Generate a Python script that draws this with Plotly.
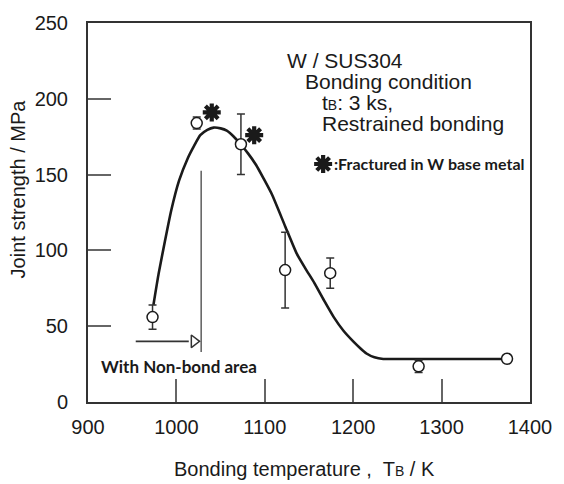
import plotly.graph_objects as go

# Measured data points (bonding temperature K, joint strength MPa, error)
temp = [973, 1023, 1073, 1123, 1174, 1274, 1374]
strength = [56, 184, 170, 87, 85, 23.5, 28.5]
err = [8, 4, 20, 25, 10, 4, 0]

# Fitted trend curve
curve_x = [974, 980, 987, 994, 1003, 1013, 1020, 1027, 1035, 1042, 1050, 1057,
           1065, 1072, 1081, 1090, 1099, 1108, 1123, 1136, 1146, 1156, 1167,
           1178, 1189, 1200, 1208, 1215, 1224, 1234, 1260, 1300, 1340, 1374]
curve_y = [64, 85, 106, 126, 146, 161, 169, 176, 179.5, 181, 180.5, 179,
           175, 170.5, 164, 156.5, 147, 137, 116, 98, 88, 78.6, 67,
           56, 47, 40, 35.5, 32, 29.5, 28.4, 28.4, 28.4, 28.4, 28.4]

# Asterisks: fractured in W base metal (plus legend key)
star_x = [1040, 1088]
star_y = [191, 176]
key_x = [1166]
key_y = [157]

# Non-bond area indicator
nb_line_x = [1028, 1028]
nb_line_y = [33, 152.5]
arrow_x = [954, 1014]
arrow_y = [40, 40]
arrow_head_x = [1020]
arrow_head_y = [40]

FONT = "Liberation Sans, Arial, sans-serif"
INK = "#1a1a1a"

fig = go.Figure()

fig.add_trace(go.Scatter(x=curve_x, y=curve_y, mode="lines",
                         line=dict(color=INK, width=2.6, shape="spline", smoothing=0.5),
                         showlegend=False, hoverinfo="skip"))

fig.add_trace(go.Scatter(x=nb_line_x, y=nb_line_y, mode="lines",
                         line=dict(color="#444", width=1.3), showlegend=False))
fig.add_trace(go.Scatter(x=arrow_x, y=arrow_y, mode="lines",
                         line=dict(color="#333", width=1.6), showlegend=False))
fig.add_trace(go.Scatter(x=arrow_head_x, y=arrow_head_y, mode="markers",
                         marker=dict(symbol="triangle-right-open", size=11,
                                     color="#333", line=dict(width=1.5, color="#333")),
                         showlegend=False))

fig.add_trace(go.Scatter(x=temp, y=strength, mode="markers",
                         marker=dict(symbol="circle", size=11, color="white",
                                     line=dict(color=INK, width=1.5)),
                         error_y=dict(type="data", array=err, visible=True,
                                      color="#333", thickness=1.5, width=4),
                         showlegend=False))

star_marker = dict(symbol="asterisk-open", size=15, color=INK,
                   line=dict(color=INK, width=4.2))
fig.add_trace(go.Scatter(x=star_x, y=star_y, mode="markers", marker=star_marker,
                         showlegend=False))
fig.add_trace(go.Scatter(x=key_x, y=key_y, mode="markers", marker=star_marker,
                         showlegend=False))

def px_x(p):
    return (p - 88) / 453.0

def px_y(p):
    return (401.7 - p) / 385.0

small = "<span style='font-size:14px'>B</span>"
ann = [
    dict(text="W / SUS304", x=px_x(290), y=px_y(55)),
    dict(text="Bonding condition", x=px_x(308), y=px_y(76)),
    dict(text="t" + small + ": 3 ks,", x=px_x(326), y=px_y(97)),
    dict(text="Restrained bonding", x=px_x(326), y=px_y(119)),
]
annotations = []
for a in ann:
    annotations.append(dict(text=a["text"], x=a["x"], y=a["y"], xref="paper", yref="paper",
                            xanchor="left", yanchor="middle", showarrow=False,
                            font=dict(family=FONT, size=21, color=INK)))

annotations.append(dict(text="<b>:Fractured in W base metal</b>",
                        x=px_x(338), y=px_y(159), xref="paper", yref="paper",
                        xanchor="left", yanchor="middle", showarrow=False,
                        font=dict(family="Lato, sans-serif", size=16, color=INK)))
annotations.append(dict(text="<b>With Non-bond area</b>",
                        x=px_x(99), y=px_y(366), xref="paper", yref="paper",
                        xanchor="left", yanchor="middle", showarrow=False,
                        font=dict(family="Lato, sans-serif", size=17, color=INK)))
annotations.append(dict(text="Bonding temperature ,  T" + small + " / K",
                        x=px_x(310), y=px_y(470), xref="paper", yref="paper",
                        xanchor="center", yanchor="middle", showarrow=False,
                        font=dict(family=FONT, size=20, color=INK)))
annotations.append(dict(text="Joint strength / MPa", textangle=-90,
                        x=px_x(16), y=px_y(185), xref="paper", yref="paper",
                        xanchor="center", yanchor="middle", showarrow=False,
                        font=dict(family=FONT, size=20, color=INK)))

fig.update_layout(
    width=564, height=484,
    margin=dict(l=88, r=23, t=17, b=82),
    paper_bgcolor="white", plot_bgcolor="white",
    annotations=annotations,
    font=dict(family=FONT, size=20, color=INK),
)
fig.update_xaxes(range=[900, 1400], tickvals=[900, 1000, 1100, 1200, 1300, 1400],
                 ticks="inside", ticklen=23, tickwidth=1.5, tickcolor="#666",
                 showline=True, linecolor="#333", linewidth=2, mirror=True,
                 showgrid=False, zeroline=False, ticklabelstandoff=6,
                 tickfont=dict(family=FONT, size=20, color=INK))
fig.update_yaxes(range=[0, 250], tickvals=[0, 50, 100, 150, 200, 250],
                 ticks="inside", ticklen=23, tickwidth=1.5, tickcolor="#666",
                 showline=True, linecolor="#333", linewidth=2, mirror=True,
                 showgrid=False, zeroline=False, ticklabelstandoff=14,
                 tickfont=dict(family=FONT, size=20, color=INK))

fig.write_html("out.html")
